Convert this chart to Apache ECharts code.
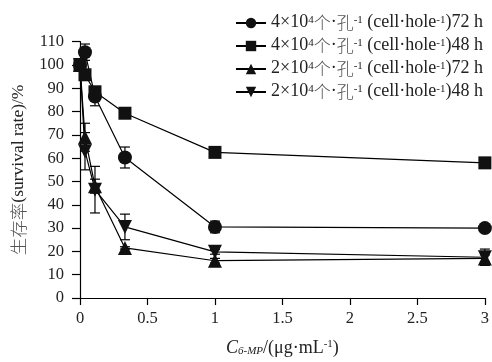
<!DOCTYPE html>
<html><head><meta charset="utf-8">
<script src="https://cdn.jsdelivr.net/npm/echarts@6/dist/echarts.min.js"></script>
<style>html,body{margin:0;padding:0;background:#fff}#c{width:492px;height:362px}</style>
</head><body><div id="c"></div>
<script>
var concentrations = [0, 0.037, 0.111, 0.333, 1, 3];
var seriesNames = ['4×10⁴个·孔⁻¹ (cell·hole⁻¹)72 h','4×10⁴个·孔⁻¹ (cell·hole⁻¹)48 h','2×10⁴个·孔⁻¹ (cell·hole⁻¹)72 h','2×10⁴个·孔⁻¹ (cell·hole⁻¹)48 h'];
var legendDensity = ['4', '4', '2', '2'];
var legendTime = ['72 h', '48 h', '72 h', '48 h'];
var high72 = [100, 105.5, 86.5, 60.3, 30.5, 30];
var high48 = [100, 95.8, 88.5, 79.3, 62.5, 58];
var low72 = [100, 69, 48, 21.5, 16, 17];
var low48 = [100, 63, 46.5, 30.5, 19.8, 17.5];
var high72Err = [0, 3.5, 4, 4.5, 2.5, 0.5];
var high48Err = [1.5, 2, 2, 1.5, 1, 1.5];
var low72Err = [0, 6, 3, 0.5, 1, 1.5];
var low48Err = [0, 8, 10, 5.5, 1, 3.5];
var yTicks = [0,10,20,30,40,50,60,70,80,90,100,110];
var xTicks = [0,0.5,1,1.5,2,2.5,3];

var values = [high72, high48, low72, low48];
var errs = [high72Err, high48Err, low72Err, low48Err];
var symbols = ['circle', 'rect', 'triangle', 'triangle'];
var rotates = [0, 0, 0, 180];
var sizes = [14, 13, 14, 14];

var serif = 'Liberation Serif';
var cjk = 'Noto Sans CJK SC';

var series = [];
values.forEach(function (v, i) {
  series.push({
    name: seriesNames[i], type: 'line',
    data: concentrations.map(function (x, j) { return [x, v[j]]; }),
    symbol: symbols[i], symbolRotate: rotates[i], symbolSize: sizes[i],
    showAllSymbol: true,
    lineStyle: { color: '#000', width: 1.2 },
    itemStyle: { color: '#111', borderColor: '#111', borderWidth: 0 },
    z: 3
  });
  series.push({
    type: 'custom', name: seriesNames[i] + ' err', silent: true, z: 2,
    data: concentrations.map(function (x, j) { return [x, v[j] - errs[i][j], v[j] + errs[i][j]]; }),
    renderItem: function (params, api) {
      var lo = api.coord([api.value(0), api.value(1)]);
      var hi = api.coord([api.value(0), api.value(2)]);
      var w = 5;
      var st = { stroke: '#000', lineWidth: 1.2 };
      return { type: 'group', children: [
        { type: 'line', shape: { x1: lo[0], y1: lo[1], x2: hi[0], y2: hi[1] }, style: st },
        { type: 'line', shape: { x1: lo[0] - w, y1: lo[1], x2: lo[0] + w, y2: lo[1] }, style: st },
        { type: 'line', shape: { x1: hi[0] - w, y1: hi[1], x2: hi[0] + w, y2: hi[1] }, style: st }
      ]};
    },
    encode: { x: 0, y: [1, 2] }
  });
});

var chart = echarts.init(document.getElementById('c'), null, { renderer: 'canvas' });
chart.setOption({
  animation: false,
  backgroundColor: '#fff',
  grid: { left: 80, right: 6, top: 41.7, bottom: 54.3, containLabel: false },
  legend: {
    data: seriesNames, orient: 'vertical', left: 230, top: 8,
    itemWidth: 30, itemHeight: 13, itemGap: 5,
    formatter: function (name) {
      var i = seriesNames.indexOf(name);
      return '{n|' + legendDensity[i] + '×10}{s|4}{c|个}{n|·}{c|孔}{s|-1}{n| (cell·hole}{s|-1}{n|)' + legendTime[i] + '}';
    },
    textStyle: {
      fontFamily: serif, fontSize: 18, color: '#222',
      rich: {
        n: { fontFamily: serif, fontSize: 18, color: '#222', lineHeight: 16, verticalAlign: 'bottom' },
        c: { fontFamily: cjk, fontSize: 17, color: '#555', lineHeight: 16, verticalAlign: 'bottom', fontWeight: 300 },
        s: { fontFamily: serif, fontSize: 11, color: '#222', lineHeight: 16, verticalAlign: 'top' }
      }
    }
  },
  xAxis: {
    type: 'value', min: 0, max: 3, interval: 0.5,
    axisLine: { lineStyle: { color: '#000', width: 1.2 } },
    axisTick: { show: true, inside: false, length: 7, lineStyle: { color: '#000', width: 1.2 } },
    splitLine: { show: false },
    axisLabel: { fontFamily: serif, fontSize: 16.5, color: '#222', margin: 12,
      formatter: function (v) { return xTicks.indexOf(v) >= 0 ? String(v) : ''; } },
    name: '{i|C}{sub|6-MP}{n|/(μg·mL}{s|-1}{n|)}',
    nameLocation: 'middle', nameGap: 41,
    nameTextStyle: {
      rich: {
        i: { fontFamily: serif, fontStyle: 'italic', fontSize: 18, color: '#222', lineHeight: 18, verticalAlign: 'middle' },
        sub: { fontFamily: serif, fontStyle: 'italic', fontSize: 11, color: '#222', lineHeight: 18, verticalAlign: 'bottom' },
        n: { fontFamily: serif, fontSize: 18, color: '#222', lineHeight: 18, verticalAlign: 'middle' },
        s: { fontFamily: serif, fontSize: 11, color: '#222', lineHeight: 18, verticalAlign: 'top' }
      }
    }
  },
  yAxis: {
    type: 'value', min: 0, max: 110, interval: 10,
    axisLine: { show: true, lineStyle: { color: '#000', width: 1.2 } },
    axisTick: { show: true, inside: false, length: 8, lineStyle: { color: '#000', width: 1.2 } },
    splitLine: { show: false },
    axisLabel: { fontFamily: serif, fontSize: 16.5, color: '#222', margin: 16,
      formatter: function (v) { return yTicks.indexOf(v) >= 0 ? String(v) : ''; } },
    name: '{c|生存率}{n|(survival rate)/%}',
    nameLocation: 'middle', nameGap: 53, nameRotate: 90,
    nameTextStyle: {
      rich: {
        c: { fontFamily: cjk, fontSize: 17.5, color: '#555', fontWeight: 300 },
        n: { fontFamily: serif, fontSize: 17.5, color: '#222' }
      }
    }
  },
  series: series
});
</script></body></html>
